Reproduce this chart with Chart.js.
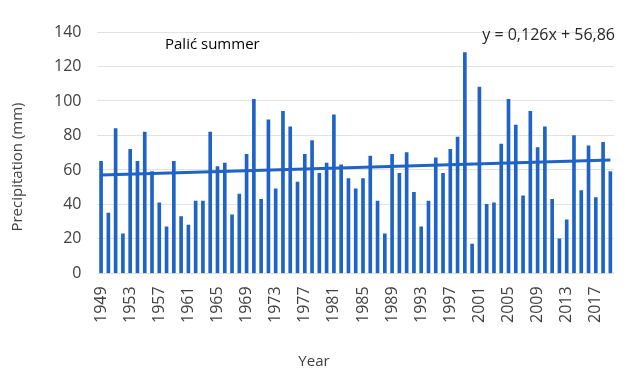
<!DOCTYPE html>
<html>
<head>
<meta charset="utf-8">
<script src="https://cdn.jsdelivr.net/npm/chart.js@4"></script>
<style>
  html, body { margin: 0; padding: 0; background: #ffffff; }
  #wrap { width: 630px; height: 376px; position: relative; }
</style>
</head>
<body>
<div id="wrap"><canvas id="c" width="630" height="376"></canvas></div>
<script>
const years = ["1949","1950","1951","1952","1953","1954","1955","1956","1957","1958",
  "1959","1960","1961","1962","1963","1964","1965","1966","1967","1968",
  "1969","1970","1971","1972","1973","1974","1975","1976","1977","1978",
  "1979","1980","1981","1982","1983","1984","1985","1986","1987","1988",
  "1989","1990","1991","1992","1993","1994","1995","1996","1997","1998",
  "1999","2000","2001","2002","2003","2004","2005","2006","2007","2008",
  "2009","2010","2011","2012","2013","2014","2015","2016","2017","2018","2019"];

const precipitation = [65,35,84,23,72,65,82,59,41,27,
  65,33,28,42,42,82,62,64,34,46,
  69,101,43,89,49,94,85,53,69,77,
  58,64,92,63,55,49,55,68,42,23,
  69,58,70,47,27,42,67,58,72,79,
  128,17,108,40,41,75,101,86,45,94,
  73,85,43,20,31,80,48,74,44,76,59];

const trendStart = 57.0;
const trendEnd = 65.8;
const trendLabel = "y = 0,126x + 56,86";
const chartTitle = "Palić summer";
const xAxisTitle = "Year";
const yAxisTitle = "Precipitation (mm)";
const yTicks = [0,20,40,60,80,100,120,140];

const blue = '#1f63c6';
const FONT = '"Open Sans", sans-serif';

const textPlugin = {
  id: 'textPlugin',
  afterDraw(chart) {
    const ctx = chart.ctx;
    ctx.save();
    ctx.textBaseline = 'middle';
    ctx.fillStyle = '#000000';
    ctx.font = '15px ' + FONT;
    ctx.textAlign = 'left';
    ctx.fillText(chartTitle, 165, 45);
    ctx.fillStyle = '#262626';
    ctx.font = '16px ' + FONT;
    ctx.textAlign = 'right';
    ctx.fillText(trendLabel, 615, 35);
    ctx.fillStyle = '#404040';
    ctx.font = '15px ' + FONT;
    ctx.textAlign = 'center';
    ctx.fillText(xAxisTitle, 314, 362);
    ctx.translate(18, 167);
    ctx.rotate(-Math.PI / 2);
    ctx.fillText(yAxisTitle, 0, 0);
    ctx.restore();
  }
};

new Chart(document.getElementById('c'), {
  type: 'bar',
  data: {
    labels: years,
    datasets: [
      {
        type: 'line',
        data: [{x: years[0], y: trendStart}, {x: years[years.length-1], y: trendEnd}],
        borderColor: blue,
        borderWidth: 3,
        pointRadius: 0,
        fill: false,
        order: 0
      },
      {
        type: 'bar',
        data: precipitation,
        backgroundColor: blue,
        barThickness: 3,
        order: 1
      }
    ]
  },
  options: {
    responsive: false,
    animation: false,
    devicePixelRatio: 1,
    layout: { padding: { top: 32, right: 16, left: 38, bottom: 40 } },
    plugins: {
      legend: { display: false },
      tooltip: { enabled: false }
    },
    scales: {
      x: {
        offset: true,
        afterFit: function(scale) { scale.paddingRight = 0; scale.paddingLeft = 0; },
        grid: { display: false, drawTicks: false },
        border: { display: false },
        ticks: {
          autoSkip: false,
          maxRotation: 90,
          minRotation: 90,
          padding: 13,
          color: '#404040',
          font: { family: FONT, size: 16 },
          callback: function(v, i) { return i % 4 === 0 ? years[i] : ''; }
        }
      },
      y: {
        min: 0,
        max: 140,
        afterBuildTicks: function(axis) { axis.ticks = yTicks.map(v => ({ value: v })); },
        grid: { color: '#e2e2e2', drawTicks: false },
        border: { display: false },
        ticks: {
          padding: 16,
          color: '#404040',
          font: { family: FONT, size: 16 }
        }
      }
    }
  },
  plugins: [textPlugin]
});
</script>
</body>
</html>
